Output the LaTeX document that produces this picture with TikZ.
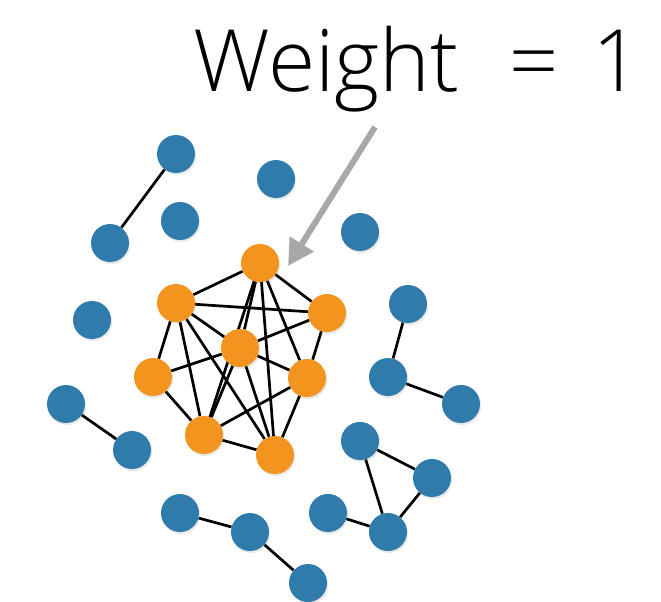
\documentclass[tikz,border=0pt]{standalone}
\usepackage{fontspec}
\setmainfont{TeX Gyre Heros}
\newfontfamily\titlefont{Open Sans Light}
\usetikzlibrary{arrows.meta,shadows,backgrounds}
\definecolor{nblue}{RGB}{46,123,172}
\definecolor{norange}{RGB}{243,148,31}
\definecolor{agray}{RGB}{167,169,168}
\tikzset{
  dot/.style={circle,minimum size=38pt,inner sep=0pt,draw=none,
    drop shadow={opacity=0.18,shadow xshift=1.2pt,shadow yshift=-2pt}},
  bdot/.style={dot,fill=nblue},
  odot/.style={dot,fill=norange},
  edge/.style={black,line width=2.7pt},
  pointer/.style={agray,line width=6pt,-{Triangle[length=26pt,width=27pt]}}
}
\begin{document}
\begin{tikzpicture}[x=1pt,y=-1pt]
\useasboundingbox (0,0) rectangle (661,602);
% title
\node[anchor=base west,inner sep=0pt,font=\titlefont\fontsize{86}{90}\selectfont] (title) at (193,92) {Weight\kern 50pt=\kern 34pt1};
% blue nodes
\node[bdot] (b1) at (176,154) {};
\node[bdot] (b2) at (276,179) {};
\node[bdot] (b3) at (180,221) {};
\node[bdot] (b4) at (110,243) {};
\node[bdot] (b5) at (360,232) {};
\node[bdot] (b6) at (408,304) {};
\node[bdot] (b7) at (92,320) {};
\node[bdot] (b8) at (388,377) {};
\node[bdot] (b9) at (461,404) {};
\node[bdot] (b10) at (66,404) {};
\node[bdot] (b11) at (132,450) {};
\node[bdot] (b12) at (360,441) {};
\node[bdot] (b13) at (432,478) {};
\node[bdot] (b14) at (180,513) {};
\node[bdot] (b15) at (328,513) {};
\node[bdot] (b16) at (250,532) {};
\node[bdot] (b17) at (388,532) {};
\node[bdot] (b18) at (308,583) {};
% orange nodes
\node[odot] (A) at (260,263) {};
\node[odot] (B) at (176,303) {};
\node[odot] (C) at (327,313) {};
\node[odot] (D) at (240,348) {};
\node[odot] (E) at (153,377) {};
\node[odot] (F) at (307,378) {};
\node[odot] (G) at (204,435) {};
\node[odot] (H) at (275,455) {};
\begin{pgfonlayer}{background}
% blue edges
\draw[edge] (b1) -- (b4);
\draw[edge] (b6) -- (b8);
\draw[edge] (b8) -- (b9);
\draw[edge] (b10) -- (b11);
\draw[edge] (b12) -- (b13);
\draw[edge] (b12) -- (b17);
\draw[edge] (b13) -- (b17);
\draw[edge] (b15) -- (b17);
\draw[edge] (b14) -- (b16);
\draw[edge] (b16) -- (b18);
% orange edges
\foreach \u/\v in {A/B,A/C,A/D,A/F,B/C,B/D,B/E,B/G,B/H,C/D,C/F,D/E,D/F,D/G,D/H,E/G,F/G,F/H,G/H}
  \draw[edge] (\u) -- (\v);
\draw[edge] (A.center) -- (G.center);
\draw[edge] (A.center) -- (H.center);
\end{pgfonlayer}
% pointer
\coordinate (ptail) at (375,127);
\coordinate (ptip) at (288,266);
\draw[pointer] (ptail) -- (ptip);
\end{tikzpicture}
\end{document}
